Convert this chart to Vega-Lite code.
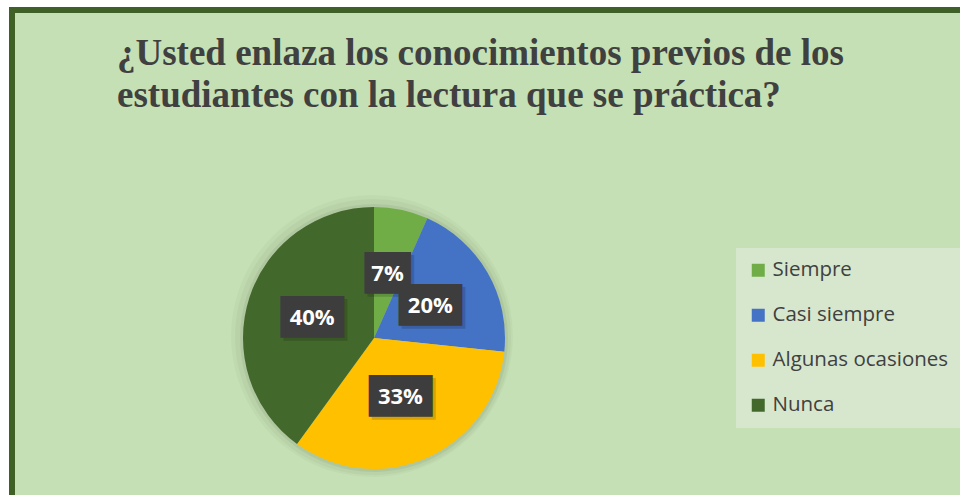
{
  "$schema": "https://vega.github.io/schema/vega-lite/v6.json",
  "background": "white",
  "padding": {"left": 9, "top": 7, "right": -6, "bottom": -6},
  "config": {"font": "Open Sans"},
  "vconcat": [
    {
      "width": 951,
      "height": 488,
      "view": {"fill": "#c5e0b4", "stroke": "#3f6128", "strokeWidth": 6},
      "title": {
        "text": ["¿Usted enlaza los conocimientos previos de los", "estudiantes con la lectura que se práctica?"],
        "anchor": "start",
        "frame": "group",
        "font": "Liberation Serif",
        "fontSize": 37,
        "fontWeight": "bold",
        "color": "#404040",
        "lineHeight": 42,
        "baseline": "top",
        "dx": 105,
        "dy": 109
      },
      "data": {
        "values": [
          {"respuesta": "Siempre", "share": 0.0667, "orden": 1},
          {"respuesta": "Casi siempre", "share": 0.2, "orden": 2},
          {"respuesta": "Algunas ocasiones", "share": 0.3333, "orden": 3},
          {"respuesta": "Nunca", "share": 0.4, "orden": 4}
        ]
      },
      "encoding": {
        "theta": {"field": "share", "type": "quantitative", "stack": true},
        "order": {"field": "orden", "type": "quantitative"}
      },
      "layer": [
        {"mark": {"type": "arc", "radius": 141, "color": "#000000", "opacity": 0.025, "xOffset": -115.5, "yOffset": 82}},
        {"mark": {"type": "arc", "radius": 138, "color": "#000000", "opacity": 0.035, "xOffset": -114.5, "yOffset": 83}},
        {"mark": {"type": "arc", "radius": 134, "color": "#000000", "opacity": 0.05, "xOffset": -113.5, "yOffset": 84}},
        {
          "mark": {"type": "arc", "radius": 131, "xOffset": -113.5, "yOffset": 84},
          "encoding": {
            "color": {
              "field": "respuesta",
              "type": "nominal",
              "scale": {
                "domain": ["Siempre", "Casi siempre", "Algunas ocasiones", "Nunca"],
                "range": ["#70ad47", "#4472c4", "#ffc000", "#43682b"]
              },
              "legend": {
                "orient": "none",
                "legendX": 724,
                "legendY": 238,
                "title": null,
                "symbolType": "square",
                "symbolSize": 169,
                "symbolOpacity": 1,
                "symbolStrokeWidth": 0,
                "labelFont": "Open Sans",
                "labelFontSize": 20.5,
                "labelColor": "#404040",
                "labelOffset": 4,
                "labelLimit": 300,
                "rowPadding": 24,
                "padding": 12,
                "fillColor": "#d7e7cd"
              }
            }
          }
        },
        {
          "mark": {"type": "text", "radius": 65, "font": "DejaVu Sans Mono", "fontSize": 35, "color": "#000000", "opacity": 0.15, "xOffset": -110.5, "yOffset": 87},
          "encoding": {"text": {"condition": {"test": "datum.share < 0.1", "value": "▕██▏"}, "value": "███"}}
        },
        {
          "mark": {"type": "text", "radius": 65, "font": "DejaVu Sans Mono", "fontSize": 35, "color": "#3d3d3d", "xOffset": -113.5, "yOffset": 84},
          "encoding": {"text": {"condition": {"test": "datum.share < 0.1", "value": "▕██▏"}, "value": "███"}}
        },
        {
          "mark": {"type": "text", "radius": 65, "font": "Open Sans", "fontWeight": "bold", "fontSize": 22, "color": "#ffffff", "xOffset": -113.5, "yOffset": 84},
          "encoding": {"text": {"field": "share", "type": "quantitative", "format": ".0%"}}
        }
      ]
    }
  ]
}
